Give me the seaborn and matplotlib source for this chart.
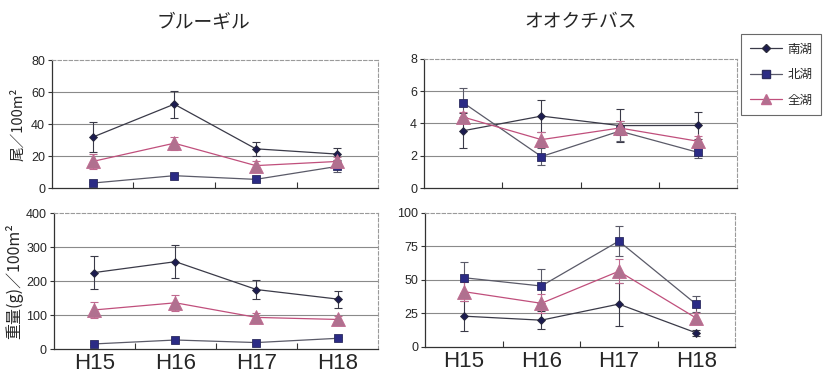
import matplotlib
matplotlib.use("Agg")
import matplotlib.pyplot as plt
import seaborn as sns
import pandas as pd
import numpy as np
from matplotlib.lines import Line2D
from matplotlib.ticker import FixedLocator
from matplotlib import font_manager

# ---------------- data ----------------
years = ["H15", "H16", "H17", "H18"]
lakes = ["南湖", "北湖", "全湖"]

titles = ["ブルーギル", "オオクチバス"]
ylabels = ["尾／100m²", "重量(g)／100m²"]

# Bluegill, individuals / 100 m2
bg_cnt_south = [31.8, 52.4, 24.5, 21.2]
bg_cnt_south_err = [9.5, 8.5, 4.5, 4.0]
bg_cnt_north = [3.1, 7.7, 5.4, 13.5]
bg_cnt_north_err = [0.8, 1.0, 0.8, 3.5]
bg_cnt_all = [16.6, 28.0, 14.0, 16.6]
bg_cnt_all_err = [4.8, 4.0, 3.0, 3.0]

# Largemouth bass, individuals / 100 m2
lmb_cnt_south = [3.55, 4.46, 3.87, 3.88]
lmb_cnt_south_err = [1.1, 1.0, 1.0, 0.85]
lmb_cnt_north = [5.29, 1.95, 3.53, 2.21]
lmb_cnt_north_err = [0.9, 0.55, 0.6, 0.37]
lmb_cnt_all = [4.4, 3.0, 3.72, 2.9]
lmb_cnt_all_err = [0.3, 0.47, 0.45, 0.3]

# Bluegill, weight (g) / 100 m2
bg_wt_south = [225, 257, 175, 147]
bg_wt_south_err = [49, 49, 27, 25]
bg_wt_north = [15, 26.5, 19, 31.5]
bg_wt_north_err = [3, 4, 3, 4]
bg_wt_all = [115, 136, 93, 87]
bg_wt_all_err = [24, 24, 13, 9]

# Largemouth bass, weight (g) / 100 m2
lmb_wt_south = [23, 20, 32, 10.5]
lmb_wt_south_err = [11, 6.7, 16, 2.5]
lmb_wt_north = [51.7, 45.5, 79, 31.8]
lmb_wt_north_err = [11.5, 12.5, 11.4, 6]
lmb_wt_all = [41.3, 32.6, 56.5, 21.5]
lmb_wt_all_err = [7, 7, 9, 4]

yticks_tl = [0, 20, 40, 60, 80]
yticks_tr = [0, 2, 4, 6, 8]
yticks_bl = [0, 100, 200, 300, 400]
yticks_br = [0, 25, 50, 75, 100]

# ---------------- style ----------------
sns.set_theme(style="white")
plt.rcParams["font.family"] = ["Liberation Sans", "Noto Sans CJK JP", "DejaVu Sans"]
JP = ["Noto Sans CJK JP", "DejaVu Sans"]

installed = {f.name for f in font_manager.fontManager.ttflist}
if "Liberation Sans Narrow" in installed:
    XFONT = ["Liberation Sans Narrow"]
    XSIZE = 18
else:
    XFONT = ["Liberation Sans"]
    XSIZE = 16

styles = {
    "南湖": dict(line="#3a3a48", mk="D", mc="#1c1c50", ms=4.5, ec="#2a2a3a"),
    "北湖": dict(line="#5a5a68", mk="s", mc="#2b2b85", ms=5.5, ec="#2b2b60"),
    "全湖": dict(line="#c04f7c", mk="^", mc="#b0708f", ms=9.5, ec="#c06a90"),
}

fig = plt.figure(figsize=(8.29, 3.84), dpi=100)
positions = [
    [0.0627, 0.5104, 0.3933, 0.3333],
    [0.5115, 0.5104, 0.3776, 0.3360],
    [0.0650, 0.0911, 0.3910, 0.3540],
    [0.5127, 0.0964, 0.3740, 0.3490],
]
panels = [
    (bg_cnt_south, bg_cnt_south_err, bg_cnt_north, bg_cnt_north_err, bg_cnt_all, bg_cnt_all_err, yticks_tl),
    (lmb_cnt_south, lmb_cnt_south_err, lmb_cnt_north, lmb_cnt_north_err, lmb_cnt_all, lmb_cnt_all_err, yticks_tr),
    (bg_wt_south, bg_wt_south_err, bg_wt_north, bg_wt_north_err, bg_wt_all, bg_wt_all_err, yticks_bl),
    (lmb_wt_south, lmb_wt_south_err, lmb_wt_north, lmb_wt_north_err, lmb_wt_all, lmb_wt_all_err, yticks_br),
]

for i, (pos, panel) in enumerate(zip(positions, panels)):
    ax = fig.add_axes(pos)
    s, se, n, ne, a, ae, yt = panel
    series = [("南湖", s, se), ("北湖", n, ne), ("全湖", a, ae)]
    for lake, vals, errs in series:
        st = styles[lake]
        df = pd.DataFrame({"year": years, "value": vals})
        ax.errorbar(years, vals, yerr=errs, fmt="none", ecolor=st["line"] if lake != "全湖" else "#c06a90",
                    elinewidth=0.8, capsize=3, capthick=0.8, zorder=2)
        sns.lineplot(data=df, x="year", y="value", ax=ax, color=st["line"], linewidth=0.9,
                     marker=st["mk"], markersize=st["ms"], markerfacecolor=st["mc"],
                     markeredgecolor=st["ec"], markeredgewidth=0.6, sort=False,
                     errorbar=None, legend=False, zorder=3)
    ax.set_xlim(-0.5, 3.5)
    ax.set_ylim(yt[0], yt[-1])
    ax.set_yticks(yt)
    ax.set_xlabel("")
    ax.set_ylabel("")
    for v in yt[1:-1]:
        ax.axhline(v, color="#8a8a8a", lw=0.8, zorder=1)
    ax.xaxis.set_minor_locator(FixedLocator([0.5, 1.5, 2.5]))
    ax.tick_params(axis="x", which="minor", direction="in", length=4, width=0.8, color="#333333", bottom=True)
    ax.tick_params(axis="x", which="major", length=0, pad=3)
    ax.tick_params(axis="y", which="major", direction="out", length=3, width=0.8, color="#333333",
                   left=True, labelsize=9, pad=2)
    if i < 2:
        ax.set_xticklabels([])
    else:
        ax.set_xticks(range(len(years)))
        ax.set_xticklabels(years, family=XFONT, fontsize=XSIZE)
    for side in ["left", "bottom"]:
        ax.spines[side].set_color("#333333")
        ax.spines[side].set_linewidth(0.9)
    for side in ["top", "right"]:
        ax.spines[side].set_color("#9a9a9a")
        ax.spines[side].set_linewidth(0.8)
        ax.spines[side].set_linestyle((0, (3, 2)))
    if i == 0:
        ax.set_ylabel(ylabels[0], family=JP, fontsize=10.5, labelpad=4)
    if i == 2:
        ax.set_ylabel(ylabels[1], family=JP, fontsize=11.5, labelpad=2)

fig.text(0.245, 0.943, titles[0], family=JP, fontsize=13.5, ha="center", va="center")
fig.text(0.70, 0.943, titles[1], family=JP, fontsize=13.5, ha="center", va="center")

handles = [
    Line2D([], [], color=styles[k]["line"], lw=0.9, marker=styles[k]["mk"],
           markersize=styles[k]["ms"] * (0.8 if k == "全湖" else 1.0),
           markerfacecolor=styles[k]["mc"], markeredgecolor=styles[k]["ec"])
    for k in lakes
]
leg = fig.legend(handles, lakes, loc="upper left", bbox_to_anchor=(0.894, 0.912),
                 prop={"family": JP, "size": 9}, frameon=True, fancybox=False,
                 edgecolor="#444444", labelspacing=1.0, handlelength=2.6,
                 handletextpad=0.4, borderpad=0.7, borderaxespad=0)
leg.get_frame().set_linewidth(0.8)

fig.savefig("out.png", dpi=100, facecolor="white")
